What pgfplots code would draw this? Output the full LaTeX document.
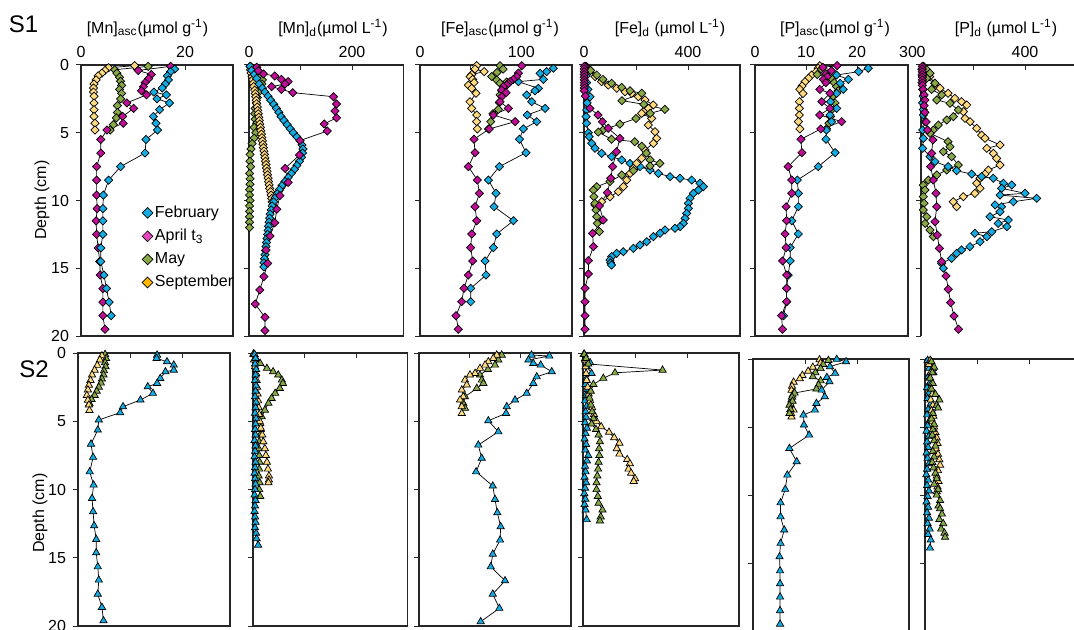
\documentclass[border=0pt]{standalone}
\usepackage{fontspec}
\setmainfont{Liberation Sans}
\usepackage{pgfplots}
\pgfplotsset{compat=1.18}
\definecolor{cfeb}{RGB}{20,172,226}
\definecolor{capr}{RGB}{190,15,150}
\definecolor{caprL}{RGB}{228,70,190}
\definecolor{cmay}{RGB}{137,168,72}
\definecolor{csep}{RGB}{255,218,128}
\definecolor{csepL}{RGB}{255,184,0}
\pgfplotsset{
  panel/.style={scale only axis, y dir=reverse, ymin=0, ymax=20, xmin=0, clip=false,
    axis line style={line width=0.6pt, black!85},
    xtick pos=top, xticklabel pos=top, ytick pos=left,
    xtick align=inside, ytick align=outside,
    major tick length=2.5pt, tick style={line width=0.5pt, black!85},
    ytick={0,5,10,15,20}, yticklabels={},
    ticklabel style={font=\fontsize{8}{9}\selectfont},
    anchor=north west},
  openright/.style={axis x line*=top, axis y line*=left, xtick align=inside, ytick align=outside},
  toprow/.style={height=135.5pt},
  botrow/.style={height=136.5pt, xticklabels={}},
  feb/.style={black, line width=0.35pt, mark=square*, mark size=1.45pt, mark options={rotate=45, fill=cfeb, draw=black, line width=0.35pt, solid}},
  apr/.style={black, line width=0.35pt, mark=square*, mark size=1.45pt, mark options={rotate=45, fill=capr, draw=black, line width=0.35pt, solid}},
  may/.style={black, line width=0.35pt, mark=square*, mark size=1.45pt, mark options={rotate=45, fill=cmay, draw=black, line width=0.35pt, solid}},
  sep/.style={black, line width=0.35pt, mark=square*, mark size=1.45pt, mark options={rotate=45, fill=csep, draw=black, line width=0.35pt, solid}},
  febT/.style={black, line width=0.35pt, mark=triangle*, mark size=2.1pt, mark options={fill=cfeb, draw=black, line width=0.35pt, solid}},
  mayT/.style={black, line width=0.35pt, mark=triangle*, mark size=2.1pt, mark options={fill=cmay, draw=black, line width=0.35pt, solid}},
  sepT/.style={black, line width=0.35pt, mark=triangle*, mark size=2.1pt, mark options={fill=csep, draw=black, line width=0.35pt, solid}},
}
\newcommand{\fs}{\fontsize{8}{9}\selectfont}
\begin{document}
\begin{tikzpicture}
\useasboundingbox (0,0) rectangle (537pt,-315pt);
% ================= S1 =================
% --- Mn asc
\begin{axis}[panel, toprow, at={(40.5pt,-32.5pt)}, width=76pt, xmax=29.2, xtick={0,10,20}, xticklabels={0,,20},
  yticklabels={0,5,10,15,20},
  legend style={at={(0.40,0.49)}, anchor=north west, draw=none, fill=none, font=\fs, inner sep=0pt, row sep=2.4pt, nodes={inner sep=1pt}},
  legend cell align=left]
\addlegendimage{only marks, mark=square*, mark size=1.9pt, mark options={rotate=45, fill=cfeb, draw=black, line width=0.35pt}}
\addlegendentry{February}
\addlegendimage{only marks, mark=square*, mark size=1.9pt, mark options={rotate=45, fill=caprL, draw=black, line width=0.35pt}}
\addlegendentry{April t\textsubscript{3}}
\addlegendimage{only marks, mark=square*, mark size=1.9pt, mark options={rotate=45, fill=cmay, draw=black, line width=0.35pt}}
\addlegendentry{May}
\addlegendimage{only marks, mark=square*, mark size=1.9pt, mark options={rotate=45, fill=csepL, draw=black, line width=0.35pt}}
\addlegendentry{September}
\addplot[sep, forget plot] coordinates {(10.3,0.05)(5.3,0.2)(4.6,0.4)(4.0,0.6)(3.3,0.8)(2.9,1.1)(2.5,1.4)(2.4,1.7)(2.4,2.0)(2.5,2.3)(2.5,2.8)(2.5,3.3)(2.5,3.8)(2.7,4.3)(2.7,4.8)};
\addplot[may, forget plot] coordinates {(12.9,0.1)(6.5,0.35)(6.9,0.6)(7.4,0.9)(7.6,1.2)(7.8,1.5)(7.4,1.8)(7.8,2.1)(7.6,2.5)(7.0,3.0)(7.0,3.5)(6.8,3.9)(6.2,4.4)(5.6,4.8)};
\addplot[apr, forget plot] coordinates {(17.2,0.1)(11.0,0.4)(13.5,0.7)(13.0,1.0)(12.3,1.3)(12.0,1.6)(11.6,1.9)(12.6,2.2)(8.8,2.8)(10.1,3.2)(8.0,3.8)(8.1,4.3)(5.0,4.8)(3.8,5.5)(3.8,6.5)(3.0,7.5)(3.0,8.5)(3.0,9.6)(3.1,10.6)(2.9,11.5)(3.0,12.5)(3.3,13.5)(3.6,14.5)(3.7,15.5)(4.2,16.5)(4.2,17.5)(4.2,18.5)(4.6,19.5)};
\addplot[feb, forget plot] coordinates {(18.0,0.3)(17.2,0.5)(16.6,0.8)(16.8,1.1)(16.2,1.4)(15.6,1.7)(14.0,2.0)(16.4,2.2)(14.6,2.5)(17.0,2.8)(15.1,3.3)(13.9,3.8)(14.4,4.3)(14.7,4.8)(12.5,5.5)(12.3,6.5)(7.6,7.5)(5.3,8.5)(4.3,9.6)(4.2,10.6)(4.2,11.5)(4.2,12.5)(3.8,13.5)(3.8,14.5)(4.4,15.5)(4.9,16.5)(5.4,17.5)(5.8,18.5)};
\end{axis}
% --- Mn d
\begin{axis}[panel, toprow, at={(124.5pt,-32.5pt)}, width=77.25pt, xmax=300, xtick={0,100,200}, xticklabels={0,,200}]
\addplot[may] coordinates {(3,0.1)(8,0.3)(15,0.6)(21,0.9)(26,1.1)(25,1.4)(22,1.7)(19,2.0)(16,2.4)(14,2.8)(12,3.2)(11,3.6)(12,4.0)(15,4.3)(10,4.6)(13,5.0)(10,5.4)(6,5.8)(4,6.2)(2,6.6)(2,7.1)(3,7.5)(1,8.0)(2,8.4)(2,8.8)(1,9.2)(1,9.6)(2,10.0)(1,10.4)(1,10.8)(1,11.2)(1,11.6)(1,12.0)};
\addplot[sep] coordinates {(2,0.1)(3,0.35)(4,0.6)(6,0.85)(7,1.1)(8,1.35)(9,1.6)(11,1.85)(12,2.1)(13,2.35)(14,2.6)(15,2.85)(16,3.1)(17,3.35)(18,3.6)(19,3.85)(20,4.1)(21,4.35)(22,4.6)(23,4.85)(24,5.1)(25,5.35)(26,5.6)(27,5.85)(28,6.1)(29,6.35)(30,6.6)(31,6.85)(32,7.1)(33,7.35)(34,7.6)(35,7.85)(36,8.1)(37,8.35)(38,8.6)(39,8.85)(40,9.1)(42,9.35)(43,9.6)(44,9.85)(45,10.1)(46,10.35)(47,10.6)};
\addplot[feb] coordinates {(2,0.1)(5,0.4)(10,0.7)(15,1.0)(20,1.4)(26,1.7)(31,2.0)(37,2.3)(42,2.6)(48,2.9)(53,3.2)(58,3.5)(62,3.8)(68,4.1)(74,4.4)(80,4.7)(86,5.0)(93,5.3)(99,5.6)(103,5.9)(105,6.2)(104,6.5)(102,6.8)(98,7.1)(93,7.4)(88,7.7)(82,8.0)(76,8.3)(70,8.6)(64,8.9)(59,9.2)(55,9.5)(51,9.8)(48,10.1)(45,10.4)(43,10.7)(41,11.0)(40,11.3)(39,11.6)(38,11.9)(37,12.2)(36,12.5)(35,12.8)(34,13.1)(33,13.4)(32,13.7)(31,14.0)(30,14.3)(29,14.6)(29,14.9)};
\addplot[apr] coordinates {(15,0.17)(18,0.42)(28,0.66)(50,0.81)(63,1.06)(76,1.23)(70,1.4)(44,1.6)(63,1.8)(85,2.04)(164,2.34)(170,2.88)(167,3.4)(170,3.9)(146,4.35)(152,4.87)(99,5.58)(98,6.64)(70,7.63)(76,8.66)(60,9.64)(54,10.65)(50,11.64)(41,12.62)(33,13.65)(36,14.64)(29,15.62)(21,16.6)(12,17.64)(31,18.62)(31,19.6)};
\end{axis}
% --- Fe asc
\begin{axis}[panel, toprow, at={(210pt,-32.5pt)}, width=76pt, xmax=150, xtick={0,50,100}, xticklabels={0,,100}]
\addplot[sep] coordinates {(55.9,0.05)(54.3,0.3)(63.2,0.49)(51,0.7)(49.4,0.86)(52,1.06)(53.3,1.3)(47.7,1.48)(51,1.72)(55.3,2.09)(49.4,2.71)(51,3.2)(55.9,3.69)(55.9,4.18)(56.6,4.72)};
\addplot[may] coordinates {(79,0.05)(82,0.3)(76,0.55)(70.7,0.85)(75.7,1.1)(85.6,1.25)(79,1.35)(82.3,1.6)(80.6,1.9)(79,2.21)(78.3,2.78)(77.3,3.27)(72,3.6)(69.8,4.18)(67.5,4.72)};
\addplot[feb] coordinates {(131.6,0.24)(125,0.49)(118.5,0.62)(121.8,1.06)(97,1.23)(116.8,1.72)(113.5,1.9)(105.3,2.21)(110.2,2.71)(123.4,3.2)(105.9,3.69)(115.2,4.18)(102,4.72)(98.1,5.48)(104.6,6.47)(78.3,7.5)(67.5,8.49)(75,9.47)(73.1,10.46)(92.2,11.49)(75.7,12.47)(72.4,13.48)(64.2,14.46)(65.2,15.5)(50,16.48)(50,17.47)};
\addplot[apr] coordinates {(100.4,0.05)(97.1,0.6)(95.4,0.86)(92.2,1.06)(88.9,1.23)(87.2,1.35)(85.6,1.48)(82.3,1.6)(80.6,1.85)(84.9,2.04)(80.6,2.34)(79,2.71)(87.2,3.2)(72.4,3.69)(93.8,4.18)(68.4,4.72)(53.3,5.48)(54.3,6.47)(47.7,7.5)(56.6,8.49)(58.6,9.47)(54.3,10.46)(56,11.49)(51,12.47)(50,13.48)(52,14.46)(47.7,15.5)(43.4,16.48)(41.1,17.47)(35.5,18.5)(37.8,19.5)};
\end{axis}
% --- Fe d
\begin{axis}[panel, toprow, at={(292pt,-32.5pt)}, width=78pt, xmax=600, xtick={0,200,400}, xticklabels={0,,400}]
\addplot[feb] coordinates {(5,0.3)(8,0.8)(10,1.3)(15,1.8)(23,2.34)(12,2.8)(10,3.32)(8,3.81)(10,4.3)(16.7,5.0)(20,5.29)(29.5,5.78)(42.3,6.15)(67.9,6.52)(106.4,6.76)(144.9,7.01)(176.9,7.26)(215.4,7.5)(253.8,7.75)(285.9,8.0)(330.8,8.24)(369.2,8.36)(414.1,8.49)(446.2,8.73)(459,8.98)(439.7,9.23)(420.5,9.47)(407.7,9.84)(401.3,10.21)(401.3,10.58)(394.9,10.95)(388.5,11.32)(382,11.69)(369.2,11.93)(350,12.05)(311.5,12.18)(292.3,12.42)(266.7,12.67)(241,13.04)(215.4,13.28)(189.7,13.53)(151.3,13.78)(125.6,13.9)(106.4,14.14)(100,14.39)(102.6,14.6)(106,14.76)};
\addplot[sep] coordinates {(10.3,0.12)(23,0.37)(42.3,0.86)(67.9,1.23)(93.6,1.48)(125.6,1.72)(157.7,1.97)(183.3,2.09)(209,2.34)(234.6,2.58)(266.7,2.95)(247.4,3.2)(228.2,3.44)(221.8,3.57)(260.3,3.94)(247.4,4.43)(273,4.92)(279.5,5.41)(266.7,5.78)(234.6,6.27)(221.8,6.89)(202.6,7.26)(189.7,7.63)(176.9,8.0)(164,8.49)(151.3,8.98)(132,9.35)(100,9.72)(67.9,10.09)(42.3,10.33)};
\addplot[may] coordinates {(5,0.1)(25,0.4)(48.7,0.74)(73,1.06)(106,1.35)(145,1.65)(177,1.9)(222,2.09)(146,2.63)(230,2.9)(311,3.27)(254,3.57)(200,3.95)(138,4.36)(73,4.8)(55,4.95)(106,5.48)(195,5.66)(222,6.0)(240,6.5)(254,7.0)(292,7.26)(254,7.45)(190,7.8)(145,8.12)(100,8.6)(49,8.98)(36,9.23)(38,9.72)(42,10.21)(46,10.7)(49,11.2)(51,11.69)(59,12.3)};
\addplot[apr] coordinates {(1,0.1)(1,0.3)(1,0.5)(1,0.7)(1,0.9)(1,1.1)(1,1.3)(1,1.5)(1,1.7)(1,1.9)(5,2.3)(23,3.2)(54,3.69)(71,4.18)(93,4.67)(138,5.41)(125,6.4)(110,7.5)(103,8.36)(90,9.42)(59,10.4)(74,11.44)(33,12.42)(36,13.41)(17,14.44)(17,15.42)(4,16.48)(4,17.47)(4,18.5)(4,19.5)};
\end{axis}
% --- P asc
\begin{axis}[panel, toprow, at={(377.5pt,-32.5pt)}, width=76.5pt, xmax=30, xtick={0,10,20,30}, xticklabels={0,10,20,30}]
\addplot[sep] coordinates {(12.7,0.05)(12.4,0.24)(12.0,0.49)(11.1,0.74)(10.5,0.98)(9.8,1.23)(9.2,1.55)(8.8,1.8)(9.4,2.1)(8.7,2.71)(8.7,3.2)(8.7,3.69)(8.5,4.18)(8.8,4.72)};
\addplot[may] coordinates {(13.0,0.3)(12.2,0.7)(15.0,1.0)(15.5,1.3)(16.0,1.6)(16.3,1.9)(15.3,2.3)(15.7,2.8)(15.0,3.3)(14.8,3.8)(14.5,4.3)(14.0,4.7)};
\addplot[feb] coordinates {(22.2,0.24)(20.3,0.49)(16.0,0.74)(18.3,1.06)(16.7,1.35)(17.3,1.8)(16.0,2.09)(14.8,2.71)(16.0,3.2)(14.7,3.69)(15.0,4.18)(14.0,4.8)(13.9,5.48)(15.7,6.47)(12.4,7.5)(8.3,8.49)(8.5,9.47)(8.5,10.46)(7.2,11.49)(8.5,12.47)(6.9,13.48)(6.9,14.46)(6.5,15.5)(6.2,16.48)(6.2,17.47)(5.6,18.5)};
\addplot[apr] coordinates {(16.1,0.05)(13.3,0.17)(15.0,0.42)(13.9,0.66)(14.2,0.86)(13.4,1.06)(13.9,1.3)(12.7,1.8)(14.7,2.09)(13.1,2.71)(14.7,3.2)(12.7,3.69)(17.0,4.18)(12.9,4.72)(9.0,5.48)(9.2,6.47)(6.5,7.5)(7.2,8.49)(7.2,9.47)(6.1,10.46)(6.2,11.49)(5.9,12.47)(6.1,13.48)(5.4,14.46)(6.2,15.5)(6.2,16.48)(6.2,17.47)(5.2,18.5)(5.4,19.5)};
\end{axis}
% --- P d
\begin{axis}[panel, toprow, openright, at={(460.5pt,-32.5pt)}, width=78pt, xmax=600, xtick={0,200,400}, xticklabels={0,,400}]
\addplot[sep] coordinates {(7.7,0.12)(20.5,0.37)(33.3,0.86)(52.6,1.35)(73,1.72)(104,2.09)(130,2.46)(156,2.71)(175.6,2.95)(162.8,3.44)(169.2,3.94)(188.5,4.18)(214,4.67)(233,5.17)(246,5.41)(304,5.9)(253,6.15)(278,6.52)(291,6.89)(304,7.38)(259,7.75)(246,8.05)(227,8.36)(214,8.73)(227,9.1)(207,9.47)(162.8,9.72)(124,10.09)(137,10.46)};
\addplot[may] coordinates {(10,0.1)(20,0.3)(34.6,0.61)(21.8,0.98)(53.8,1.35)(41,1.8)(79.5,2.21)(60.3,2.58)(111.5,2.83)(143.6,3.32)(124.4,3.81)(98.7,4.06)(66.7,4.43)(47.4,4.8)(34.6,5.04)(104,5.66)(111.5,6.03)(85.9,6.4)(117.9,6.76)(143.6,7.38)(98.7,7.75)(60.3,8.12)(28.2,8.49)(9,8.86)(15.4,9.23)(9,9.72)(11.5,10.21)(9,10.7)(21.8,11.2)(15.4,11.69)(34.6,12.18)(47.4,12.67)};
\addplot[feb] coordinates {(3,0.3)(5,0.8)(4,1.3)(6,1.8)(8,2.3)(6,2.8)(9,3.3)(9,3.69)(15.4,4.18)(6.4,4.8)(9,5.41)(6.4,6.15)(34.6,6.76)(53.8,7.13)(104,7.5)(137,7.8)(195,8.05)(233,8.24)(278,8.36)(317,8.73)(349,8.86)(310,9.1)(400,9.47)(304,9.6)(445,9.84)(355,10.09)(285,10.33)(310,10.46)(304,10.83)(265,11.2)(336,11.44)(297,11.69)(330,11.93)(272,12.3)(207,12.42)(253,12.67)(227,13.04)(188,13.41)(156,13.65)(137,13.9)(118,14.27)(79.5,14.64)(86,15.0)};
\addplot[apr] coordinates {(5,0.1)(5,0.3)(5,0.5)(5,0.7)(5,0.9)(5,1.1)(5,1.3)(5,1.5)(8,1.8)(12,2.2)(15,2.6)(12,3.0)(15,3.5)(20,4.2)(25,4.8)(45.5,5.53)(41,6.52)(37,7.5)(47.4,8.49)(57.7,9.47)(60.3,10.46)(53.8,11.57)(62.8,12.55)(70.5,13.53)(79.5,14.51)(96,15.57)(105,16.55)(114,17.54)(127,18.52)(144,19.5)};
\end{axis}
% ================= S2 =================
\begin{axis}[panel, botrow, at={(39pt,-176.5pt)}, width=76pt, xmax=29.2, xtick={0,10,20}, yticklabels={0,5,10,15,20}]
\addplot[mayT] coordinates {(5.2,0.1)(5.4,0.4)(5.2,0.7)(5.3,1.0)(5.0,1.3)(4.9,1.6)(4.6,1.9)(4.4,2.2)(4.0,2.5)(3.6,2.8)(3.2,3.1)(2.6,3.4)(2.2,3.7)};
\addplot[sepT] coordinates {(4.6,0.2)(4.2,0.5)(3.7,0.9)(3.2,1.25)(2.7,1.6)(2.4,2.0)(2.1,2.35)(1.9,2.7)(1.7,3.1)(1.9,3.45)(2.1,3.8)(2.2,4.2)};
\addplot[febT] coordinates {(15.2,0.15)(15.1,0.39)(17.1,0.64)(18.4,0.88)(18.4,1.25)(16.8,1.37)(15.8,1.86)(15.2,2.22)(13.4,2.47)(14.4,2.95)(12.0,3.44)(8.65,3.93)(8.1,4.37)(4.0,4.9)(3.8,5.64)(2.5,6.67)(2.9,7.64)(2.25,8.7)(3.0,9.67)(2.7,10.65)(2.9,11.62)(3.1,12.65)(3.5,13.65)(3.5,14.63)(3.8,15.66)(4.0,16.63)(3.8,17.66)(4.6,18.63)(4.9,19.61)};
\end{axis}
\begin{axis}[panel, botrow, at={(126.5pt,-176.5pt)}, width=77.25pt, xmax=300, xtick={0,100,200}]
\addplot[mayT] coordinates {(1,0.07)(6,0.4)(14,0.76)(27,1.12)(39,1.37)(49,1.61)(56,1.98)(58,2.22)(52,2.59)(43,2.95)(36,3.32)(30,3.68)(23,4.18)(17,4.67)(14,5.15)(15,5.6)(14,6.0)(12,6.5)(11,7.0)(12,7.5)(13,8.0)(12,8.5)(11,9.0)(13,9.5)(12,10.0)(14,10.5)};
\addplot[sepT] coordinates {(1,0.1)(2,0.5)(4,1.0)(6,1.5)(7,2.0)(8,2.5)(9,3.0)(10,3.5)(11,4.0)(12,4.5)(13,5.0)(15,5.5)(18,6.0)(20,6.5)(23,7.0)(25,7.5)(27,8.0)(29,8.5)(31,9.0)(31,9.3)(30,9.5)};
\addplot[febT] coordinates {(3,0.1)(5,0.4)(4,0.8)(6,1.2)(5,1.6)(4,2.0)(6,2.4)(5,2.8)(4,3.2)(6,3.6)(5,4.0)(4,4.4)(6,4.8)(5,5.2)(4,5.6)(5,6.0)(3,6.4)(5,6.8)(4,7.2)(3,7.6)(5,8.0)(4,8.4)(3,8.8)(4,9.2)(5,9.6)(4,10.0)(3,10.4)(5,10.8)(4,11.2)(3,11.6)(4,12.0)(5,12.4)(4,12.8)(6,13.2)(7,13.6)(10,14.07)};
\end{axis}
\begin{axis}[panel, botrow, at={(209.5pt,-176.5pt)}, width=76pt, xmax=150, xtick={0,50,100}]
\addplot[mayT] coordinates {(81.6,0.15)(78.3,0.51)(75,0.88)(68,1.2)(60.2,1.61)(61.9,1.98)(63.5,2.22)(57,2.59)(45.4,3.2)(43.7,3.68)(45.4,4.05)};
\addplot[sepT] coordinates {(76.7,0.15)(73.3,0.39)(68.4,0.64)(65.2,0.88)(60.2,1.12)(55.3,1.49)(50.3,1.61)(45.4,1.98)(47.1,2.34)(42.2,2.71)(43.7,3.2)(40.5,3.44)(42.2,3.93)(42.2,4.42)};
\addplot[febT] coordinates {(111,0.15)(128.6,0.22)(108,0.51)(112.8,0.76)(120.1,0.88)(131,1.37)(116.2,1.74)(112.8,2.22)(106.3,2.95)(94.8,3.44)(86.6,3.93)(85.9,4.42)(68.4,4.96)(78.3,5.77)(58.5,6.74)(61.9,7.71)(56.3,8.7)(72.8,9.74)(75,10.72)(77.3,11.7)(80.6,12.72)(80,13.7)(72.8,14.73)(70.8,15.66)(84.9,16.68)(72.8,17.66)(79.3,18.7)(60.9,19.68)};
\end{axis}
\begin{axis}[panel, botrow, at={(291.5pt,-176.5pt)}, width=78pt, xmax=600, xtick={0,200,400}]
\addplot[febT] coordinates {(3,0.1)(8,0.4)(27,0.7)(15,1.0)(33,1.5)(12,1.9)(10,2.3)(18,2.7)(12,3.1)(8,3.5)(14,3.9)(10,4.3)(12,4.7)(8,5.1)(15,5.5)(10,5.9)(6,6.3)(12,6.7)(9,7.1)(20,7.5)(15,7.9)(8,8.3)(10,8.7)(6,9.1)(12,9.5)(8,9.9)(5,10.3)(9,10.7)(6,11.1)(10,11.5)(14,12.2)};
\addplot[sepT] coordinates {(5,0.1)(8,0.5)(10,1.0)(12,1.5)(14,2.0)(18,2.5)(22,3.0)(28,3.5)(35,4.0)(42,4.5)(52,5.0)(70,5.4)(100,5.8)(120,6.2)(140,6.6)(130,7.0)(140,7.4)(170,7.8)(180,8.1)(175,8.5)(185,8.8)(200,9.2)(195,9.4)};
\addplot[mayT] coordinates {(5,0.1)(12,0.4)(20,0.8)(306,1.25)(123,1.45)(78,1.85)(40,2.3)(30,2.8)(25,3.3)(30,3.8)(35,4.3)(40,4.8)(33,5.2)(50,5.6)(60,6.0)(65,6.5)(62,7.0)(63,7.5)(60,8.0)(58,8.5)(55,9.0)(52,9.5)(52,10.0)(57,10.5)(60,11.0)(75,11.5)(68,12.0)(65,12.3)};
\end{axis}
\begin{axis}[panel, height=136pt, xticklabels={}, at={(376.5pt,-179.5pt)}, width=78pt, xmax=30, xtick={0,10,20,30}]
\addplot[sepT] coordinates {(12.8,0.05)(13.0,0.3)(11.5,0.6)(10.6,0.9)(9.5,1.2)(9.0,1.45)(7.8,1.7)(7.5,2.0)(7.4,2.3)(7.6,2.65)(7.4,3.0)(7.2,3.3)(7.8,3.75)(7.3,4.0)(7.4,4.25)};
\addplot[mayT] coordinates {(14.5,0.1)(13.5,0.4)(13.0,0.7)(12.0,1.0)(11.5,1.3)(13.0,1.6)(12.6,1.9)(12.2,2.2)(8.0,2.5)(7.5,2.8)(7.6,3.1)(7.0,3.4)(7.2,3.7)(7.0,4.0)};
\addplot[febT] coordinates {(16.1,0.02)(17.9,0.2)(14.8,0.56)(15.8,1.05)(14.2,1.35)(14.7,1.67)(13.2,2.28)(13.8,2.77)(12.2,3.26)(11.9,3.75)(9.7,4.12)(9.8,4.85)(10.8,5.59)(7.0,6.57)(8.4,7.55)(6.6,8.53)(6.2,9.58)(5.3,10.57)(5.3,11.6)(6.0,12.57)(5.3,13.55)(5.1,14.54)(5.2,15.57)(5.2,16.52)(5.2,17.5)(5.2,18.5)(5.2,19.49)};
\end{axis}
\begin{axis}[panel, openright, height=136pt, xticklabels={}, at={(462.5pt,-179.5pt)}, width=78pt, xmax=600, xtick={0,200,400}]
\addplot[febT] coordinates {(10,0.1)(25,0.4)(15,0.7)(32,1.0)(12,1.3)(20,1.7)(8,2.1)(15,2.5)(10,2.9)(22,3.3)(12,3.7)(8,4.1)(18,4.5)(10,4.9)(6,5.3)(14,5.7)(8,6.1)(12,6.5)(6,6.9)(10,7.3)(15,7.7)(8,8.1)(5,8.5)(12,8.9)(8,9.3)(15,9.7)(10,10.1)(6,10.5)(12,10.9)(8,11.3)(15,11.7)(10,12.1)(18,12.5)(12,12.9)(22,13.3)(19,13.9)};
\addplot[sepT] coordinates {(20,0.1)(15,0.4)(30,0.7)(22,1.0)(18,1.4)(25,1.8)(20,2.2)(28,2.6)(22,3.0)(30,3.4)(25,3.8)(32,4.2)(28,4.6)(35,5.0)(40,5.4)(45,5.8)(48,6.2)(42,6.6)(50,7.0)(55,7.4)(58,7.8)(50,8.2)(45,8.6)(52,9.0)(48,9.4)(45,9.75)};
\addplot[mayT] coordinates {(25,0.2)(35,0.6)(28,1.0)(20,1.4)(30,1.8)(25,2.2)(40,2.6)(55,3.0)(45,3.4)(50,3.6)(30,4.0)(25,4.4)(35,4.8)(30,5.2)(28,5.6)(35,6.0)(40,6.4)(30,6.8)(35,7.2)(28,7.6)(33,8.0)(40,8.4)(45,8.8)(35,9.2)(50,9.6)(45,10.0)(58,10.4)(52,10.8)(58,11.0)(65,11.4)(55,11.8)(70,12.1)(62,12.5)(75,12.8)(77,13.1)};
\end{axis}
% ================= labels =================
\node[font=\fs] at (73.75pt,-14pt) {[Mn]\textsubscript{asc}(µmol g\textsuperscript{-1})};
\node[font=\fs] at (166.5pt,-14pt) {[Mn]\textsubscript{d}(µmol L\textsuperscript{-1})};
\node[font=\fs] at (250pt,-14pt) {[Fe]\textsubscript{asc}(µmol g\textsuperscript{-1})};
\node[font=\fs] at (335pt,-14pt) {[Fe]\textsubscript{d} (µmol L\textsuperscript{-1})};
\node[font=\fs] at (417.5pt,-14pt) {[P]\textsubscript{asc}(µmol g\textsuperscript{-1})};
\node[font=\fs] at (503pt,-14pt) {[P]\textsubscript{d} (µmol L\textsuperscript{-1})};
\node[font=\fs, rotate=90] at (21pt,-100pt) {Depth (cm)};
\node[font=\fs, rotate=90] at (20pt,-256.5pt) {Depth (cm)};
\node[font=\fontsize{12}{14}\selectfont] at (11.75pt,-12pt) {S1};
\node[font=\fontsize{12}{14}\selectfont] at (17pt,-184.5pt) {S2};
\end{tikzpicture}
\end{document}
